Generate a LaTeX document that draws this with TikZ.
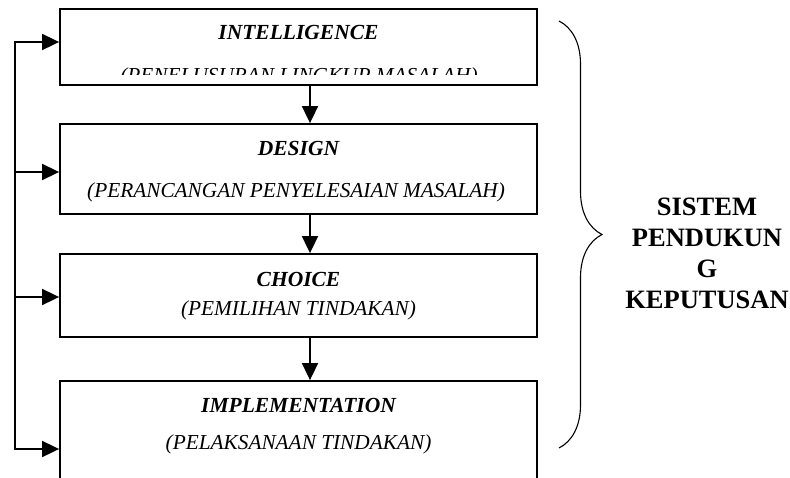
\documentclass[tikz,border=0pt]{standalone}
\usepackage{fontspec}
\setmainfont{Liberation Serif}
\usetikzlibrary{arrows.meta, positioning, calc, decorations.pathreplacing}

\tikzset{
  stage/.style={draw, rectangle, line width=1.8pt, minimum width=477pt, inner sep=0pt},
  title/.style={anchor=base, font=\fontsize{21.5}{25}\selectfont\bfseries\itshape},
  sub/.style={anchor=base, font=\fontsize{21.3}{25}\selectfont\itshape},
  arr/.style={line width=1.8pt, -{Triangle[length=17pt,width=16pt]}},
}

\begin{document}
\begin{tikzpicture}[x=1pt, y=-1pt]
    \clip (0,0) rectangle (790,477);
    % Stages
    \node[stage, minimum height=76pt] (intel) at (298.5,47) {};
    \node[stage, minimum height=90pt] (design) at (298.5,169) {};
    \node[stage, minimum height=83pt] (choice) at (298.5,295.5) {};
    \node[stage, minimum height=110pt] (impl) at (298.5,436) {};
    % Texts
    \node[title] (intelT) at (298.5,39) {INTELLIGENCE};
    \begin{scope}
        \clip (60,60) rectangle (537,74.5);
        \node[sub] (intelS) at (299,82) {(PENELUSURAN LINGKUP MASALAH)};
    \end{scope}
    \node[title] (designT) at (298.5,155) {DESIGN};
    \node[sub] (designS) at (296,197) {(PERANCANGAN PENYELESAIAN MASALAH)};
    \node[title] (choiceT) at (298.5,286) {CHOICE};
    \node[sub] (choiceS) at (298.5,315) {(PEMILIHAN TINDAKAN)};
    \node[title] (implT) at (298.5,412) {IMPLEMENTATION};
    \node[sub] (implS) at (298.5,449) {(PELAKSANAAN TINDAKAN)};
    % Flow down
    \draw[arr] ([xshift=11.5pt]intel.south) -- ([xshift=11.5pt]design.north);
    \draw[arr] ([xshift=11.5pt]design.south) -- ([xshift=11.5pt]choice.north);
    \draw[arr] ([xshift=11.5pt]choice.south) -- ([xshift=11.5pt]impl.north);
    % Feedback line
    \coordinate (f1) at (15,42);
    \coordinate (f2) at (15,172);
    \coordinate (f3) at (15,297);
    \coordinate (f4) at (15,449);
    \draw[line width=1.8pt, line cap=rect] (f1) -- (f4);
    \draw[arr] (f1) -- (f1 -| intel.west);
    \draw[arr] (f2) -- (f2 -| design.west);
    \draw[arr] (f3) -- (f3 -| choice.west);
    \draw[arr] (f4) -- (f4 -| impl.west);
    % Brace and label
    \coordinate (b1) at (559,21);
    \coordinate (b2) at (559,448);
    \draw[line width=1.1pt, decorate, decoration={brace, amplitude=43pt}] (b1) -- (b2);
    \node[font=\fontsize{26.5}{31}\selectfont\bfseries, align=center] (dss) at (707,253.5)
        {SISTEM\\PENDUKUN\\G\\KEPUTUSAN};
\end{tikzpicture}
\end{document}
